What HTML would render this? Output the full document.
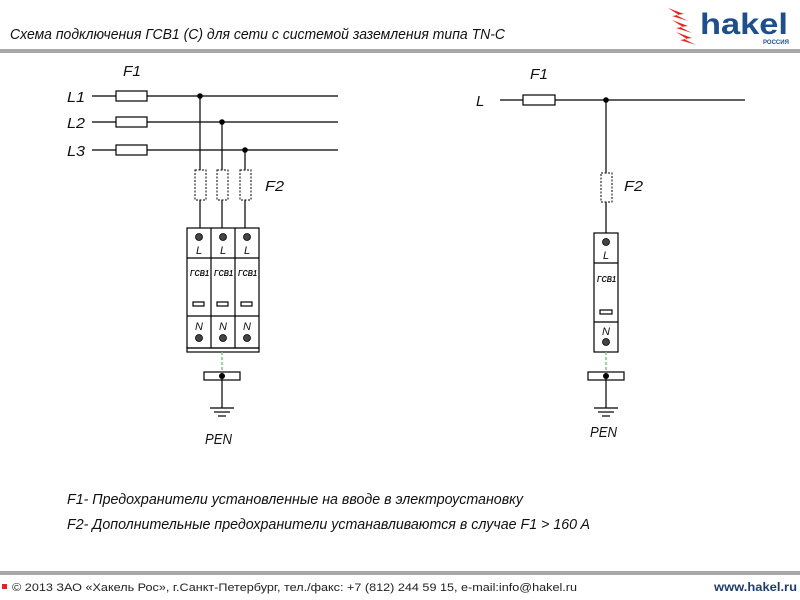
<!DOCTYPE html>
<html><head><meta charset="utf-8"><style>
html,body{margin:0;padding:0;background:#fff;width:800px;height:600px;overflow:hidden}
svg{display:block}
text{font-family:"Liberation Sans",sans-serif;font-style:italic;fill:#111}
</style></head><body>
<svg width="800" height="600" viewBox="0 0 800 600" xmlns="http://www.w3.org/2000/svg">
<text x="10" y="39" font-size="15" textLength="495" lengthAdjust="spacingAndGlyphs">Схема подключения ГСВ1 (С) для сети с системой заземления типа TN-C</text>
<rect x="0" y="49" width="800" height="4" fill="#a8a8a8"/>
<!-- logo -->
<g fill="#e52421">
<polygon points="668,8 684,14 676,15 688,21 672,16 679,15"/>
<polygon points="672,20 688,26 680,27 692,33 676,28 683,27"/>
<polygon points="676,32 692,38 684,39 696,45 680,40 687,39"/>
</g>
<text x="700" y="34" font-size="30" font-weight="bold" font-style="normal" fill="#1f4e8c" style="fill:#1f4e8c;font-style:normal" textLength="88" lengthAdjust="spacingAndGlyphs">hakel</text>
<text x="763" y="44" font-size="6" font-weight="bold" style="fill:#1f4e8c;font-style:normal">РОССИЯ</text>

<g stroke="#000" stroke-width="1.2" fill="none">
<!-- left lines -->
<line x1="92" y1="96" x2="338" y2="96"/><line x1="92" y1="122" x2="338" y2="122"/><line x1="92" y1="150" x2="338" y2="150"/>
<rect x="116" y="91" width="31" height="10" fill="#fff"/>
<rect x="116" y="117" width="31" height="10" fill="#fff"/>
<rect x="116" y="145" width="31" height="10" fill="#fff"/>
<line x1="200" y1="96" x2="200" y2="228"/><line x1="222" y1="122" x2="222" y2="228"/><line x1="245" y1="150" x2="245" y2="228"/>
<g stroke-dasharray="2,1.5" stroke-width="1"><rect x="195" y="170" width="11" height="30" fill="#fff"/><rect x="217" y="170" width="11" height="30" fill="#fff"/><rect x="240" y="170" width="11" height="30" fill="#fff"/></g>
<rect x="187" y="228" width="72" height="120" fill="#fff"/>
<line x1="211" y1="228" x2="211" y2="348"/><line x1="235" y1="228" x2="235" y2="348"/>
<line x1="187" y1="258" x2="259" y2="258"/><line x1="187" y1="316" x2="259" y2="316"/>
<rect x="187" y="348" width="72" height="4"/>
<rect x="193" y="302" width="11" height="4"/><rect x="217" y="302" width="11" height="4"/><rect x="241" y="302" width="11" height="4"/>
<rect x="204" y="372" width="36" height="8" fill="#fff"/>
<line x1="222" y1="376" x2="222" y2="408"/>
<line x1="210" y1="408" x2="234" y2="408"/><line x1="214" y1="412" x2="230" y2="412"/><line x1="218" y1="416" x2="226" y2="416"/>
<!-- right -->
<line x1="500" y1="100" x2="745" y2="100"/>
<rect x="523" y="95" width="32" height="10" fill="#fff"/>
<line x1="606" y1="100" x2="606" y2="233"/>
<rect x="601" y="173" width="11" height="29" fill="#fff" stroke-dasharray="2,1.5" stroke-width="1"/>
<rect x="594" y="233" width="24" height="119" fill="#fff"/>
<line x1="594" y1="263" x2="618" y2="263"/><line x1="594" y1="322" x2="618" y2="322"/>
<rect x="600" y="310" width="12" height="4"/>
<rect x="588" y="372" width="36" height="8" fill="#fff"/>
<line x1="606" y1="376" x2="606" y2="408"/>
<line x1="594" y1="408" x2="618" y2="408"/><line x1="598" y1="412" x2="614" y2="412"/><line x1="602" y1="416" x2="610" y2="416"/>
</g>
<g stroke="#7c7" stroke-width="1.5" stroke-dasharray="3,2"><line x1="222" y1="352" x2="222" y2="372"/><line x1="606" y1="352" x2="606" y2="372"/></g>
<g fill="#000">
<circle cx="200" cy="96" r="2.8"/><circle cx="222" cy="122" r="2.8"/><circle cx="245" cy="150" r="2.8"/><circle cx="606" cy="100" r="2.8"/>
<circle cx="222" cy="376" r="3"/><circle cx="606" cy="376" r="3"/>
</g>
<g fill="#444" stroke="#000" stroke-width="0.8">
<circle cx="199" cy="237" r="3.5"/><circle cx="223" cy="237" r="3.5"/><circle cx="247" cy="237" r="3.5"/>
<circle cx="199" cy="338" r="3.5"/><circle cx="223" cy="338" r="3.5"/><circle cx="247" cy="338" r="3.5"/>
<circle cx="606" cy="242" r="3.5"/><circle cx="606" cy="342" r="3.5"/>
</g>
<g font-size="11">
<text x="196" y="254">L</text><text x="220" y="254">L</text><text x="244" y="254">L</text>
<text x="195" y="330">N</text><text x="219" y="330">N</text><text x="243" y="330">N</text>
<text x="603" y="259">L</text><text x="602" y="335">N</text>
</g>
<g font-size="8" font-weight="bold">
<text x="190" y="276" textLength="19" lengthAdjust="spacingAndGlyphs">ГСВ1</text>
<text x="214" y="276" textLength="19" lengthAdjust="spacingAndGlyphs">ГСВ1</text>
<text x="238" y="276" textLength="19" lengthAdjust="spacingAndGlyphs">ГСВ1</text>
<text x="597" y="282" textLength="19" lengthAdjust="spacingAndGlyphs">ГСВ1</text>
</g>
<g font-size="15">
<text x="123" y="76" textLength="18" lengthAdjust="spacingAndGlyphs">F1</text>
<text x="67" y="102" textLength="18" lengthAdjust="spacingAndGlyphs">L1</text>
<text x="67" y="128" textLength="18" lengthAdjust="spacingAndGlyphs">L2</text>
<text x="67" y="156" textLength="18" lengthAdjust="spacingAndGlyphs">L3</text>
<text x="265" y="191" textLength="19" lengthAdjust="spacingAndGlyphs">F2</text>
<text x="205" y="444" textLength="27" lengthAdjust="spacingAndGlyphs">PEN</text>
<text x="530" y="79" textLength="18" lengthAdjust="spacingAndGlyphs">F1</text>
<text x="476" y="106">L</text>
<text x="624" y="191" textLength="19" lengthAdjust="spacingAndGlyphs">F2</text>
<text x="590" y="437" textLength="27" lengthAdjust="spacingAndGlyphs">PEN</text>
<text x="67" y="504" textLength="456" lengthAdjust="spacingAndGlyphs">F1- Предохранители установленные на вводе в электроустановку</text>
<text x="67" y="529" textLength="523" lengthAdjust="spacingAndGlyphs">F2- Дополнительные предохранители устанавливаются в случае F1 &gt; 160 A</text>
</g>
<rect x="0" y="571" width="800" height="4" fill="#a8a8a8"/>
<rect x="2" y="584" width="5" height="5" fill="#e52421"/>
<text x="12" y="591" font-size="11" style="font-style:normal;fill:#222" textLength="565" lengthAdjust="spacingAndGlyphs">© 2013 ЗАО «Хакель Рос», г.Санкт-Петербург, тел./факс: +7 (812) 244 59 15, e-mail:info@hakel.ru</text>
<text x="714" y="591" font-size="12" font-weight="bold" style="font-style:normal;fill:#1f3d6e" textLength="83" lengthAdjust="spacingAndGlyphs">www.hakel.ru</text>
</svg>
</body></html>
